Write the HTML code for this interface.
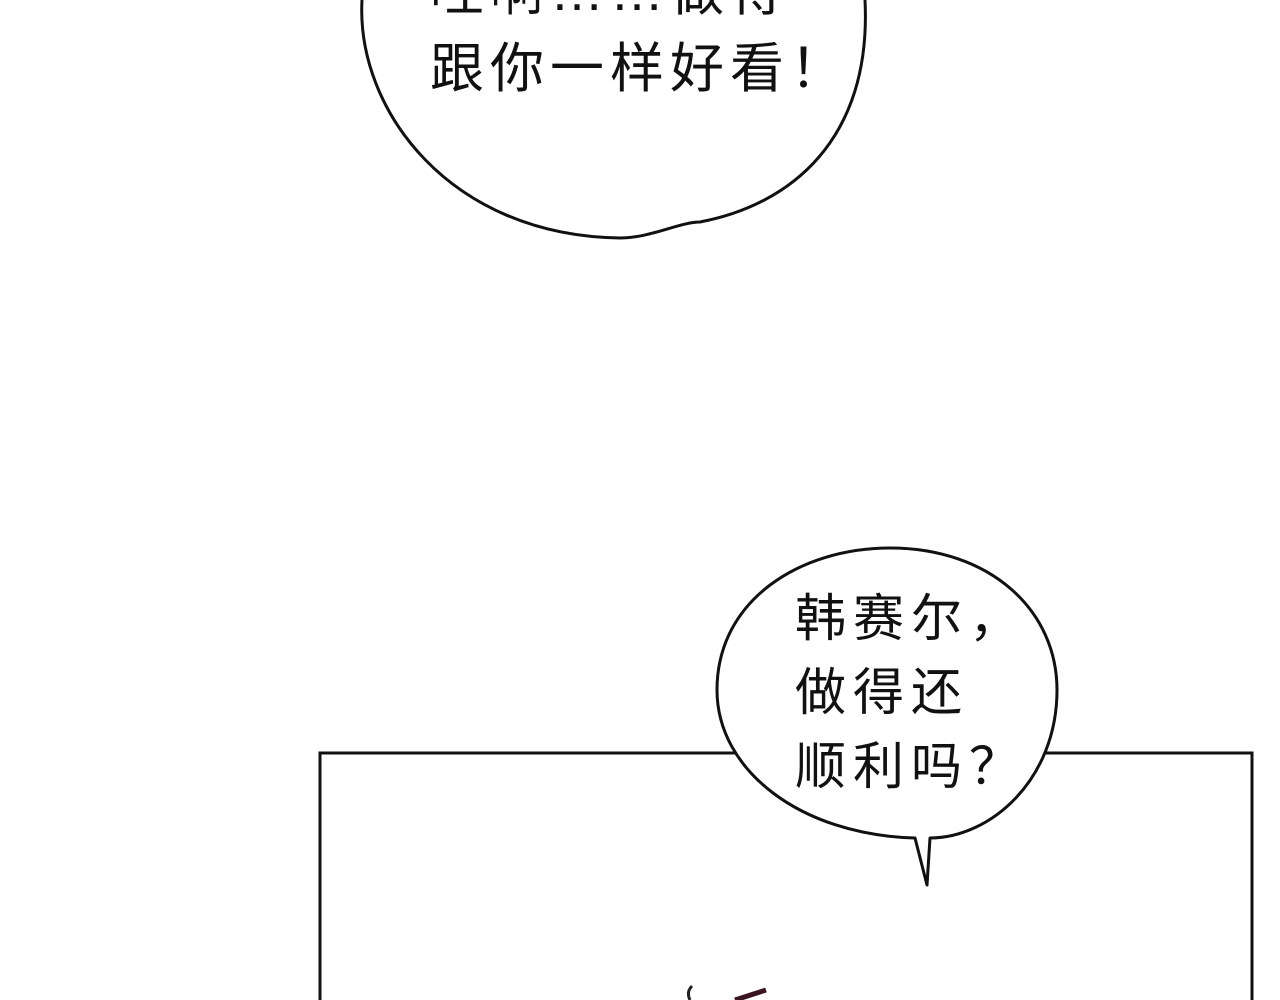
<!DOCTYPE html>
<html><head><meta charset="utf-8"><style>
html,body{margin:0;padding:0;background:#fff;width:1280px;height:1000px;overflow:hidden}
svg{display:block}
text{font-family:"Liberation Sans","Noto Sans CJK SC",sans-serif;fill:#111}
</style></head><body>
<svg width="1280" height="1000" viewBox="0 0 1280 1000">
<rect x="320" y="753" width="932" height="260" fill="none" stroke="#111" stroke-width="3"/>
<path d="M362 0 C356 110 450 236 620 238 C650 238 680 222 700 222 C790 205 872 140 865 0" fill="#fff" stroke="#111" stroke-width="3"/>
<text x="430" y="10" font-size="54" letter-spacing="6">哇啊……做得</text>
<text x="430" y="87" font-size="54" letter-spacing="6">跟你一样好看！</text>
<path d="M915 838 C800 835 717 770 717 690 C717 600 800 548 890 548 C990 548 1057 610 1057 690 C1057 780 990 838 930 838 L927 885 Z" fill="#fff" stroke="#111" stroke-width="3" stroke-linejoin="round"/>
<text x="795" y="636" font-size="51" letter-spacing="7">韩赛尔，</text>
<text x="795" y="710" font-size="51" letter-spacing="7">做得还</text>
<text x="795" y="784" font-size="51" letter-spacing="7">顺利吗？</text>
<path d="M690 1000 Q686 992 692 986" fill="none" stroke="#222" stroke-width="3"/>
<path d="M735 1000 L766 990" fill="none" stroke="#3a1420" stroke-width="5"/>
</svg>
</body></html>
